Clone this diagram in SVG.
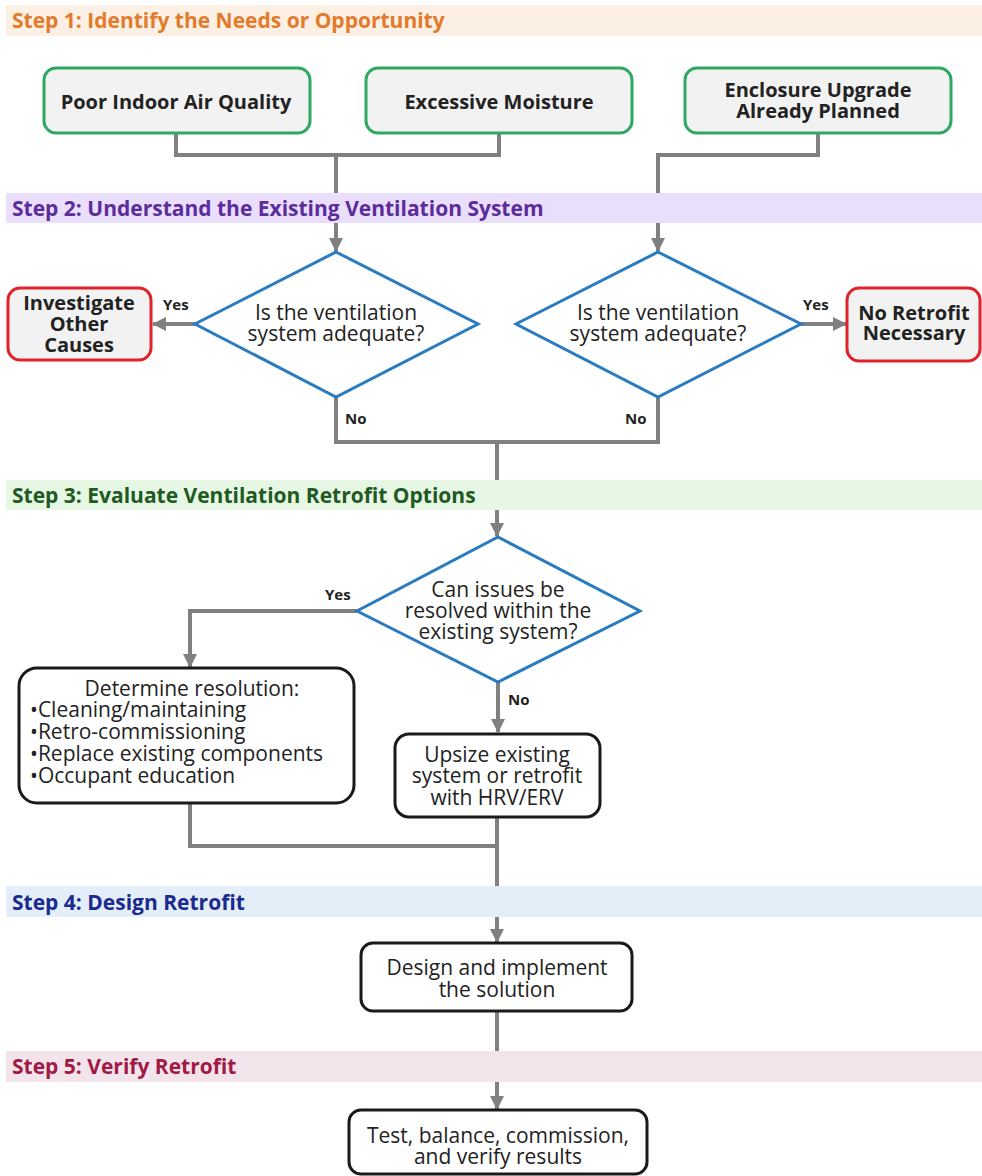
<svg xmlns="http://www.w3.org/2000/svg" width="982" height="1176" viewBox="0 0 982 1176">
<defs>
<style>
text{font-family:"Open Sans","Liberation Sans",sans-serif;fill:#222}
.hdr{font-size:21px;font-weight:700}
.nb{font-size:20px;font-weight:700;text-anchor:middle}
.nr{font-size:21px;text-anchor:middle}
.bl{font-size:21px}
.lab{font-size:15px;font-weight:700}
.con{fill:none;stroke:#808080;stroke-width:4}
.green{fill:#f2f2f2;stroke:#2ea862;stroke-width:3}
.red{fill:#f2f2f2;stroke:#e0232b;stroke-width:3}
.blk{fill:#fff;stroke:#1a1a1a;stroke-width:3}
.dia{fill:#fff;stroke:#2a7bc0;stroke-width:3}
</style>
<marker id="ah" markerUnits="userSpaceOnUse" markerWidth="16" markerHeight="14" refX="13" refY="7" orient="auto">
<path d="M0,0 L14,7 L0,14 z" fill="#808080"/>
</marker>
</defs>
<rect width="982" height="1176" fill="#fff"/>
<g id="connectors">
<path class="con" d="M176,133 V155 H499 V133"/>
<path class="con" d="M336,155 V251" marker-end="url(#ah)"/>
<path class="con" d="M818,133 V155 H658 V251" marker-end="url(#ah)"/>
<path class="con" d="M195,324 H153" marker-end="url(#ah)"/>
<path class="con" d="M801,324 H846" marker-end="url(#ah)"/>
<path class="con" d="M336,397 V442 H658 V397"/>
<path class="con" d="M497,442 V536" marker-end="url(#ah)"/>
<path class="con" d="M357,611 H190 V667" marker-end="url(#ah)"/>
<path class="con" d="M498,682 V732" marker-end="url(#ah)"/>
<path class="con" d="M190,803 V846 H497"/>
<path class="con" d="M497,817 V942" marker-end="url(#ah)"/>
<path class="con" d="M497,1011 V1109" marker-end="url(#ah)"/>
</g>
<g id="bands">
<rect x="6" y="5" width="976" height="31" fill="#fcefe4"/>
<text class="hdr" x="12" y="28" style="fill:#e27b2b">Step 1: Identify the Needs or Opportunity</text>
<rect x="6" y="193" width="976" height="30" fill="#e9defb"/>
<text class="hdr" x="12" y="216" style="fill:#5c2c9c">Step 2: Understand the Existing Ventilation System</text>
<rect x="6" y="480" width="976" height="30" fill="#e6f7e4"/>
<text class="hdr" x="12" y="503" style="fill:#1f5a22">Step 3: Evaluate Ventilation Retrofit Options</text>
<rect x="6" y="886" width="976" height="31" fill="#e4eef8"/>
<text class="hdr" x="12" y="910" style="fill:#1b2a8e">Step 4: Design Retrofit</text>
<rect x="6" y="1051" width="976" height="31" fill="#f3e4eb"/>
<text class="hdr" x="12" y="1074" style="fill:#a01a45">Step 5: Verify Retrofit</text>
</g>
<g id="poor-iaq">
<rect class="green" x="44" y="68" width="266" height="65" rx="12"/>
<text class="nb" x="176" y="109">Poor Indoor Air Quality</text>
</g>
<g id="moisture">
<rect class="green" x="366" y="68" width="266" height="65" rx="12"/>
<text class="nb" x="499" y="109">Excessive Moisture</text>
</g>
<g id="enclosure">
<rect class="green" x="685" y="68" width="266" height="65" rx="12"/>
<text class="nb" x="818" y="97">Enclosure Upgrade</text>
<text class="nb" x="818" y="118">Already Planned</text>
</g>
<g id="diamond-left">
<polygon class="dia" points="336,252 478,324 336,397 195,324"/>
<text class="nr" x="336" y="320">Is the ventilation</text>
<text class="nr" x="336" y="341">system adequate?</text>
</g>
<g id="diamond-right">
<polygon class="dia" points="658,252 801,324 658,397 516,324"/>
<text class="nr" x="658" y="320">Is the ventilation</text>
<text class="nr" x="658" y="341">system adequate?</text>
</g>
<g id="investigate">
<rect class="red" x="8" y="288" width="143" height="72" rx="12"/>
<text class="nb" x="79" y="310">Investigate</text>
<text class="nb" x="79" y="331">Other</text>
<text class="nb" x="79" y="352">Causes</text>
</g>
<g id="no-retrofit">
<rect class="red" x="847" y="288" width="133" height="73" rx="12"/>
<text class="nb" x="914" y="320">No Retrofit</text>
<text class="nb" x="914" y="340">Necessary</text>
</g>
<g id="labels">
<text class="lab" x="163" y="310">Yes</text>
<text class="lab" x="803" y="310">Yes</text>
<text class="lab" x="345" y="424">No</text>
<text class="lab" x="625" y="424">No</text>
<text class="lab" x="325" y="600">Yes</text>
<text class="lab" x="508" y="705">No</text>
</g>
<g id="diamond-resolve">
<polygon class="dia" points="498,537 640,611 498,682 357,611"/>
<text class="nr" x="498" y="597">Can issues be</text>
<text class="nr" x="498" y="618">resolved within the</text>
<text class="nr" x="498" y="639">existing system?</text>
</g>
<g id="determine">
<rect class="blk" x="19" y="668" width="335" height="135" rx="18"/>
<text class="nr" x="192" y="696">Determine resolution:</text>
<text class="bl" x="30" y="717">•Cleaning/maintaining</text>
<text class="bl" x="30" y="739">•Retro-commissioning</text>
<text class="bl" x="30" y="761">•Replace existing components</text>
<text class="bl" x="30" y="783">•Occupant education</text>
</g>
<g id="upsize">
<rect class="blk" x="395" y="734" width="205" height="83" rx="14"/>
<text class="nr" x="497" y="762">Upsize existing</text>
<text class="nr" x="497" y="783">system or retrofit</text>
<text class="nr" x="497" y="805">with HRV/ERV</text>
</g>
<g id="design">
<rect class="blk" x="361" y="943" width="271" height="68" rx="12"/>
<text class="nr" x="497" y="975">Design and implement</text>
<text class="nr" x="497" y="997">the solution</text>
</g>
<g id="test">
<rect class="blk" x="349" y="1110" width="298" height="64" rx="12"/>
<text class="nr" x="498" y="1143">Test, balance, commission,</text>
<text class="nr" x="498" y="1164">and verify results</text>
</g>
</svg>
